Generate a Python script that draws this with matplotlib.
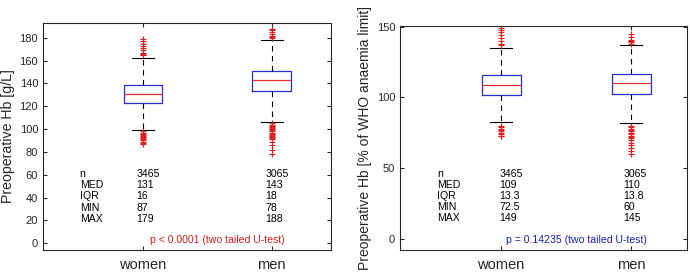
import numpy as np
import matplotlib
matplotlib.use("Agg")
import matplotlib.pyplot as plt

plt.rcParams['font.family'] = ['Liberation Sans', 'DejaVu Sans']

groups = ['women', 'men']

# left panel: Hb in g/L
hb_q1 = [123, 133]
hb_med = [131, 143]
hb_q3 = [139, 151]
hb_wlo = [99, 106]
hb_whi = [162, 178]
hb_fliers = [
    [87, 88, 89, 90, 91, 92, 93, 94, 95, 96, 97, 98, 165, 166, 167, 169, 171, 173, 175, 177, 179],
    [78, 82, 86, 89, 91, 92, 93, 94, 95, 96, 97, 98, 99, 100, 101, 102, 103, 104, 105,
     180, 181, 182, 183, 185, 187, 188],
]
hb_table = [['3465', '131', '16', '87', '179'],
            ['3065', '143', '18', '78', '188']]

# right panel: Hb in % of WHO anaemia limit
pct_q1 = [102, 102.5]
pct_med = [109, 110]
pct_q3 = [116, 116.5]
pct_wlo = [82.5, 82]
pct_whi = [135, 137]
pct_fliers = [
    [72.5, 73, 74, 75, 76, 77, 78, 79, 80, 137, 138, 140, 142, 144, 146, 148, 149],
    [60, 62, 64, 66, 68, 70, 71, 72, 73, 74, 75, 76, 77, 78, 79, 80,
     138, 139, 140, 141, 143, 145],
]
pct_table = [['3465', '109', '13.3', '72.5', '149'],
             ['3065', '110', '13.8', '60', '145']]

row_names = ['n', 'MED', 'IQR', 'MIN', 'MAX']

fig = plt.figure(figsize=(6.9, 2.74), dpi=100)
ax1 = fig.add_axes([0.0623, 0.0876, 0.4174, 0.8285])
ax2 = fig.add_axes([0.5797, 0.0876, 0.416, 0.8175])


def draw(ax, q1, med, q3, wlo, whi, fliers):
    stats = []
    for i in range(len(groups)):
        stats.append(dict(med=med[i], q1=q1[i], q3=q3[i], whislo=wlo[i],
                          whishi=whi[i], fliers=fliers[i]))
    ax.bxp(stats, positions=[1, 2], widths=0.3, showfliers=True,
           boxprops=dict(color='#2b2bd0', linewidth=0.9),
           medianprops=dict(color='#e03030', linewidth=0.9),
           whiskerprops=dict(color='black', linestyle=(0, (5, 4)), linewidth=0.8),
           capprops=dict(color='black', linewidth=0.8),
           capwidths=0.17,
           flierprops=dict(marker='+', markeredgecolor='#e02020', markersize=4.5,
                           markeredgewidth=0.8, linestyle='none'))
    ax.set_xticks([1, 2])
    ax.set_xticklabels(groups, fontsize=10)
    ax.tick_params(direction='in', top=True, right=True, length=3,
                   labelsize=8, colors='#262626')
    ax.tick_params(axis='x', labelsize=10.5, pad=6)
    for s in ax.spines.values():
        s.set_color('#262626')
        s.set_linewidth(0.8)


def table(ax, rows, ys, xs, fs=7.6):
    for j, name in enumerate(row_names):
        ax.text(xs[0], ys[j], name, fontsize=fs, va='center', ha='left')
        ax.text(xs[1], ys[j], rows[0][j], fontsize=fs, va='center', ha='left')
        ax.text(xs[2], ys[j], rows[1][j], fontsize=fs, va='center', ha='left')


draw(ax1, hb_q1, hb_med, hb_q3, hb_wlo, hb_whi, hb_fliers)
ax1.set_xlim(0.225, 2.46)
ax1.set_ylim(-6, 193)
ax1.set_yticks(np.arange(0, 181, 20))
ax1.set_ylabel('Preoperative Hb [g/L]', fontsize=10.2, color='#262626', labelpad=3)
table(ax1, hb_table, [60.5, 51, 41, 31, 21], [0.51, 0.95, 1.95])
ax1.text(1.58, 3, 'p < 0.0001 (two tailed U-test)', fontsize=7.6, color='#d02020',
         ha='center', va='center')

draw(ax2, pct_q1, pct_med, pct_q3, pct_wlo, pct_whi, pct_fliers)
ax2.set_xlim(0.223, 2.43)
ax2.set_ylim(-8, 150.6)
ax2.set_yticks([0, 50, 100, 150])
ax2.set_ylabel('Preoperative Hb [% of WHO anaemia limit]', fontsize=10,
               color='#262626', labelpad=3)
table(ax2, pct_table, [45.6, 38.3, 30.3, 22.5, 14.6], [0.51, 0.985, 1.94])
ax2.text(1.58, -0.8, 'p = 0.14235 (two tailed U-test)', fontsize=7.6, color='#2020b0',
         ha='center', va='center')

fig.savefig('out.png', dpi=100)
